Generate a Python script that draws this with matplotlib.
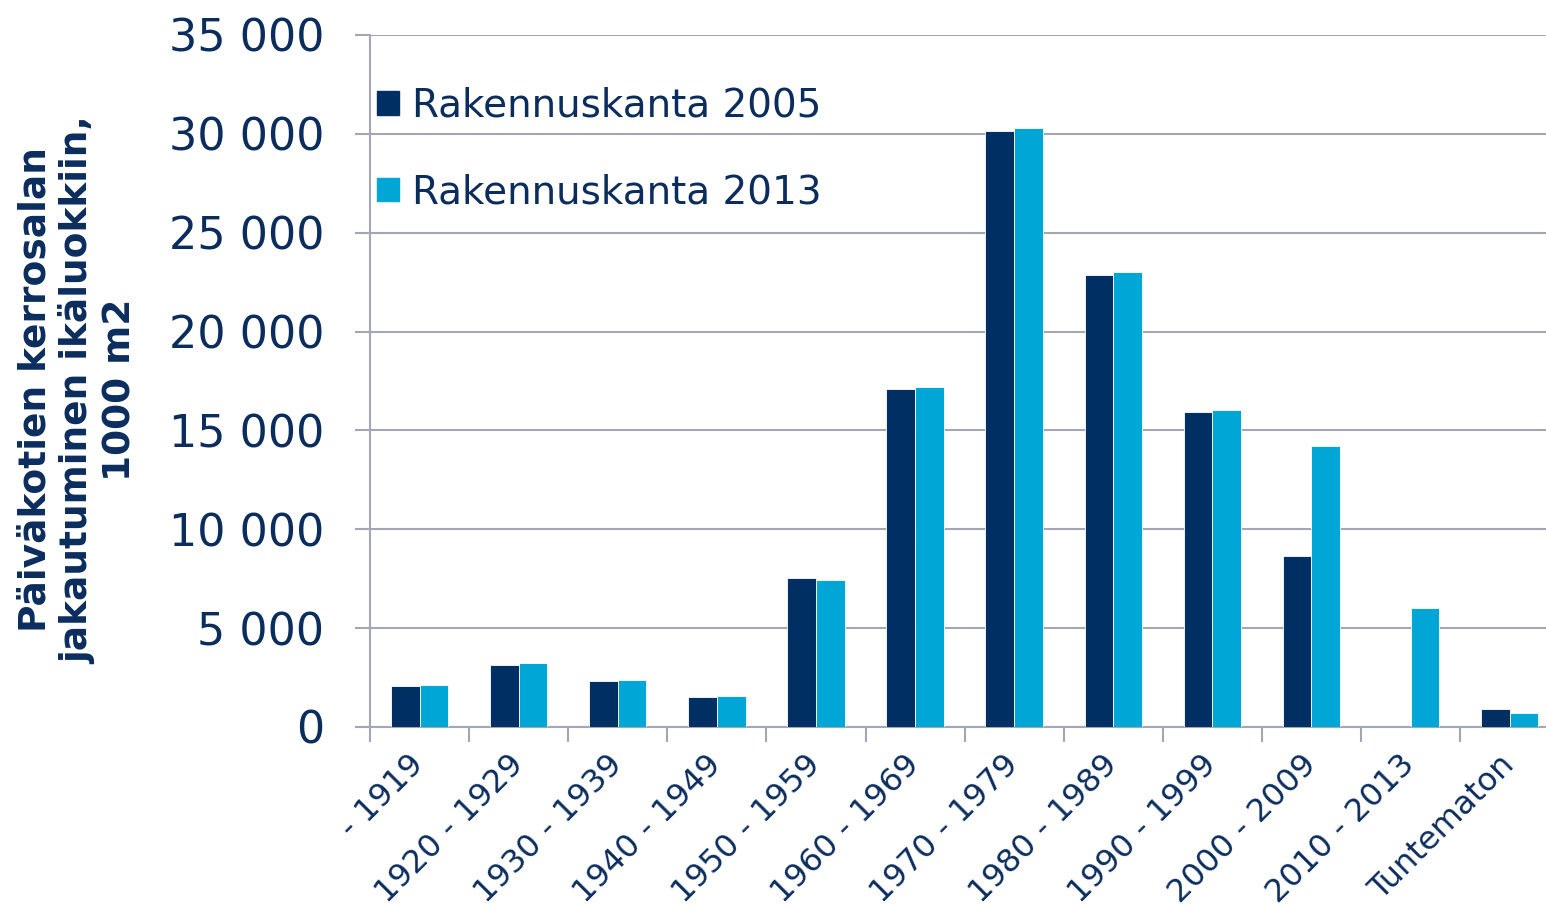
import matplotlib
matplotlib.use("Agg")
import matplotlib.pyplot as plt
from matplotlib.ticker import FuncFormatter, FixedLocator
from matplotlib.patches import Patch
import numpy as np

categories = ["- 1919", "1920 - 1929", "1930 - 1939", "1940 - 1949", "1950 - 1959",
              "1960 - 1969", "1970 - 1979", "1980 - 1989", "1990 - 1999",
              "2000 - 2009", "2010 - 2013", "Tuntematon"]
rk2005 = [2050, 3140, 2330, 1520, 7540, 17100, 30150, 22860, 15930, 8650, 0, 910]
rk2013 = [2100, 3240, 2380, 1570, 7440, 17200, 30300, 23010, 16030, 14210, 6020, 710]
series_labels = ["Rakennuskanta 2005", "Rakennuskanta 2013"]
ylabel = "Päiväkotien kerrosalan\njakautuminen ikäluokkiin,\n1000 m2"

dark = "#003063"
light = "#00A6D6"
txt = "#0B2D5E"
grid = "#A3A6B4"

plt.rcParams['font.family'] = ['DejaVu Sans']
fig = plt.figure(figsize=(15.46, 9.10), dpi=100)
W, H = 1546, 910
ax_w = 12 * 99.1
ax = fig.add_axes([370 / W, 1 - 727 / H, ax_w / W, (727 - 35) / H])

x = np.arange(len(categories))
bw = 0.29
ax.bar(x - bw / 2, rk2005, width=bw, color=dark, edgecolor="white", linewidth=0.6, zorder=3)
ax.bar(x + bw / 2, rk2013, width=bw, color=light, edgecolor="white", linewidth=0.6, zorder=3)

ax.set_xlim(-0.5, len(categories) - 0.5)
ax.set_ylim(0, 35000)
ax.set_yticks(np.arange(0, 35001, 5000))
ax.yaxis.set_major_formatter(FuncFormatter(lambda v, p: f"{int(v):,}".replace(",", " ")))
ax.yaxis.grid(True, color=grid, linewidth=1.5, zorder=0)
ax.set_axisbelow(True)

for s in ["top", "right"]:
    ax.spines[s].set_visible(False)
for s in ["left", "bottom"]:
    ax.spines[s].set_color(grid)
    ax.spines[s].set_linewidth(1.5)

ax.tick_params(axis="y", length=11, width=1.5, color=grid, pad=22,
               labelsize=32, labelcolor=txt)
ax.set_xticks(x)
ax.set_xticklabels(categories, rotation=45, ha="right", va="center",
                   rotation_mode="anchor", fontsize=23, color=txt)
ax.tick_params(axis="x", which="major", length=0, pad=24)
ax.xaxis.set_minor_locator(FixedLocator(np.arange(-0.5, len(categories), 1.0)))
ax.tick_params(axis="x", which="minor", length=11, width=1.5, color=grid)

handles = [Patch(color=dark), Patch(color=light)]
leg = ax.legend(handles, series_labels, loc="upper left", bbox_to_anchor=(0.006, 0.925),
                frameon=False, fontsize=28, handlelength=0.55, handleheight=0.55,
                handletextpad=0.35, labelspacing=1.25, borderpad=0, borderaxespad=0)
for t in leg.get_texts():
    t.set_color(txt)

fig.text(78 / W, 1 - 390 / H, ylabel, rotation=90, ha="center", va="center",
         multialignment="center", fontsize=27, fontweight="bold", color=txt,
         linespacing=1.2)

fig.savefig("out.png", dpi=100)
